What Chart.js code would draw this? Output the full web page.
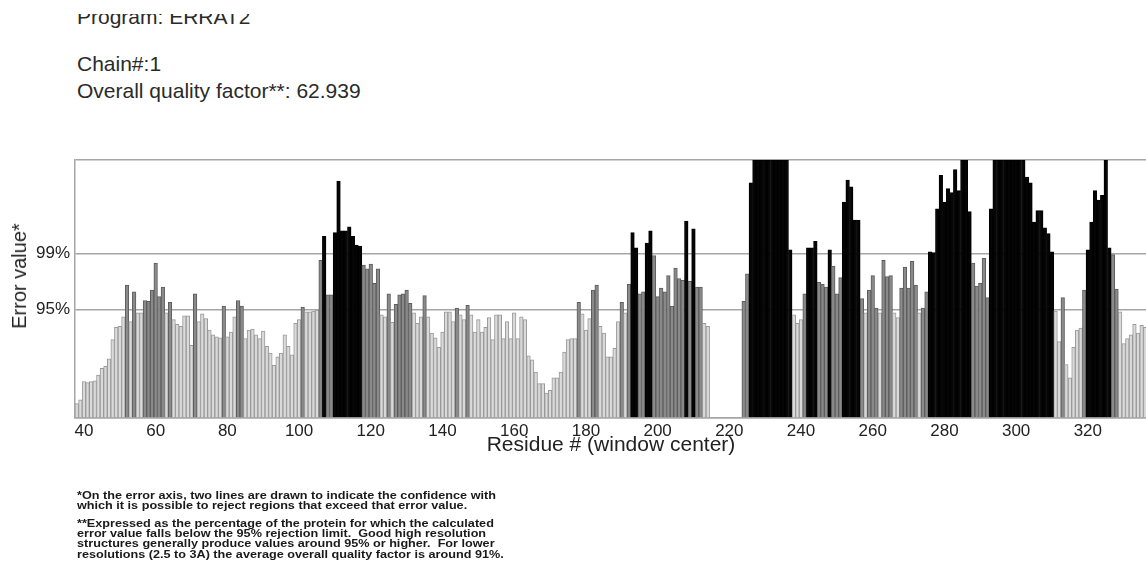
<!DOCTYPE html>
<html>
<head>
<meta charset="utf-8">
<title>ERRAT2 – Chain 1</title>
<script src="https://cdn.jsdelivr.net/npm/chart.js@4.4.1/dist/chart.umd.min.js"></script>
<style>
  html, body { margin: 0; padding: 0; background: #fff; }
  #page { position: relative; width: 1146px; height: 583px; overflow: hidden; background: #fff; }
  #plot { position: absolute; left: 0; top: 0; }
  .hdr { position: absolute; left: 77px; font-family: "Liberation Sans", Arial, sans-serif;
         font-size: 21px; line-height: 21px; color: #2a2a2a; white-space: nowrap; }
  #prog-clip { position: absolute; left: 0; top: 14px; width: 400px; height: 20px; overflow: hidden; }
  #prog-clip .hdr { top: -8px; }
  #ytitle { position: absolute; left: 19px; top: 276px; transform: translate(-50%, -50%) rotate(-90deg);
            font-family: "Liberation Sans", Arial, sans-serif; font-size: 20px; line-height: 20px;
            color: #222; white-space: nowrap; }
  .notes { position: absolute; left: 77px; font-family: "Liberation Sans", Arial, sans-serif;
           font-size: 11.5px; line-height: 10.2px; font-weight: bold; color: #1a1a1a; white-space: nowrap;
           transform: scaleX(1.1); transform-origin: 0 0; }
</style>
</head>
<body>
<div id="page">
  <div id="prog-clip"><div class="hdr">Program: ERRAT2</div></div>
  <div class="hdr" style="top:53px">Chain#:1</div>
  <div class="hdr" style="top:80px">Overall quality factor**: 62.939</div>

  <canvas id="plot" width="1150" height="583"></canvas>
  <div id="ytitle">Error value*</div>

  <div class="notes" style="top:490px">*On the error axis, two lines are drawn to indicate the confidence with<br>which it is possible to reject regions that exceed that error value.</div>
  <div class="notes" style="top:518px">**Expressed as the percentage of the protein for which the calculated<br>error value falls below the 95% rejection limit.&nbsp; Good high resolution<br>structures generally produce values around 95% or higher.&nbsp; For lower<br>resolutions (2.5 to 3A) the average overall quality factor is around 91%.</div>
</div>

<script>
// Window-centre residues covered by the plot
const firstResidue = 38;
const lastResidue = 336;

// ERRAT error value per window (null = no window computed)
const errorValues = [
  1.5, 1.9, 3.8, 3.7, 3.8, 3.9, 4.5, 5.2, 5.4, 6.2,            // 38-47
  8.2, 9.5, 9.6, 10.6, 13.9, 10.1, 13.2, 11.0, 11.0, 12.3,     // 48-57
  12.2, 13.4, 16.2, 12.7, 13.7, 11.0, 12.1, 10.3, 9.8, 9.6,    // 58-67
  10.7, 10.7, 7.6, 13.0, 10.1, 10.9, 10.4, 9.2, 8.7, 8.5,      // 68-77
  8.4, 11.7, 8.5, 9.0, 10.6, 12.3, 11.7, 8.3, 9.2, 9.3,        // 78-87
  8.7, 8.3, 9.1, 7.5, 6.8, 5.5, 6.4, 6.8, 8.7, 7.5,            // 88-97
  6.6, 9.9, 10.3, 11.6, 11.1, 11.1, 11.2, 11.3, 16.5, 19.0,    // 98-107
  12.9, 12.9, 19.4, 24.8, 19.6, 19.6, 20.0, 19.0, 18.1, 18.0,  // 108-117
  16.0, 15.6, 16.1, 14.1, 15.6, 10.8, 10.6, 13.0, 10.0, 11.9,  // 118-127
  12.9, 13.0, 13.4, 12.0, 11.0, 9.9, 10.6, 12.8, 10.6, 8.9,    // 128-137
  8.4, 7.4, 9.0, 11.1, 11.1, 10.1, 11.5, 10.8, 10.3, 11.8,     // 138-147
  10.8, 9.0, 10.3, 9.0, 9.5, 10.5, 8.2, 10.8, 10.8, 8.3,       // 148-157
  10.1, 8.3, 11.0, 8.3, 10.6, 10.3, 6.5, 6.1, 4.8, 3.6,        // 158-167
  3.6, 2.6, 2.9, 4.2, 4.2, 4.8, 6.9, 8.2, 8.3, 8.3,            // 168-177
  12.1, 10.9, 9.2, 10.4, 13.4, 13.9, 9.6, 8.9, 6.4, 6.4,       // 178-187
  7.3, 10.1, 12.1, 11.0, 14.0, 19.4, 17.8, 13.0, 13.2, 18.3,   // 188-197
  19.6, 17.0, 12.7, 13.6, 13.2, 14.9, 11.7, 15.7, 14.6, 14.4,  // 198-207
  20.6, 14.3, 19.8, 13.7, 13.7, 9.9, 9.6, null, null, null,    // 208-217
  null, null, null, null, null, null, 12.2, 15.1, 24.6, 27,    // 218-227
  27, 27, 27, 27, 27, 27, 27, 27, 27, 17.6,                    // 228-237
  10.8, 9.9, 10.3, 13.0, 17.8, 17.8, 18.5, 14.2, 14.0, 13.7,   // 238-247
  17.6, 15.9, 13.0, 14.7, 22.6, 24.9, 24.2, 20.7, 20.7, 12.5,  // 248-257
  11.0, 13.4, 14.9, 11.5, 11.0, 16.5, 14.8, 14.9, 11.0, 10.5,  // 258-267
  13.6, 15.8, 13.6, 16.4, 13.9, 11.0, 11.5, 13.2, 17.4, 17.3,  // 268-277
  21.9, 25.4, 22.6, 24.0, 23.6, 26.0, 23.8, 27, 27, 21.6,      // 278-287
  16.2, 13.8, 14.1, 16.7, 12.6, 21.9, 27, 27, 27, 27,          // 288-297
  27, 27, 27, 27, 27, 25.2, 24.6, 20.5, 21.7, 21.7,            // 298-307
  19.9, 19.3, 17.4, 11.2, 8.0, 12.6, 5.6, 4.2, 7.4, 9.2,       // 308-317
  9.4, 13.4, 17.6, 20.5, 23.8, 22.8, 23.3, 27, 17.8, 17.1,     // 318-327
  13.5, 11.1, 7.8, 8.3, 8.7, 9.8, 8.9, 9.7, 9.5                // 328-336
];

// Labelled residues on the x axis
const tickResidues = [40, 60, 80, 100, 120, 140, 160, 180, 200, 220, 240, 260, 280, 300, 320];

// Rejection limits drawn on the error axis
const limitValues = [11.38, 17.19];
const limitLabels = ['95%', '99%'];
const errorAxisMax = 27;

const residues = [];
for (let r = firstResidue; r <= lastResidue; r++) residues.push(r);

function barFill(v) {
  if (v > limitValues[1]) return '#050505';
  if (v > limitValues[0]) return '#8a8a8a';
  return '#dadada';
}
function barEdge(v) {
  if (v > limitValues[1]) return '#000000';
  if (v > limitValues[0]) return '#5c5c5c';
  return '#999999';
}

const axisGrey = '#a6a6a6';

new Chart(document.getElementById('plot'), {
  type: 'bar',
  data: {
    labels: residues,
    datasets: [{
      data: errorValues,
      backgroundColor: c => barFill(c.raw),
      borderColor: c => barEdge(c.raw),
      borderWidth: 1,
      borderSkipped: 'start',
      barPercentage: 1,
      categoryPercentage: 1
    }]
  },
  options: {
    responsive: false,
    animation: false,
    layout: { padding: { top: 160, right: 3, bottom: 0, left: 0 } },
    plugins: { legend: { display: false }, tooltip: { enabled: false } },
    scales: {
      x: {
        type: 'category',
        offset: true,
        grid: { display: false, drawTicks: false },
        border: { display: true, color: axisGrey, width: 1.5 },
        ticks: {
          autoSkip: false, maxRotation: 0, minRotation: 0, padding: 3,
          color: '#222', font: { family: 'Liberation Sans, Arial, sans-serif', size: 17 },
          callback: (val, i) => tickResidues.includes(residues[i]) ? String(residues[i]) : ''
        },
        title: {
          display: true, text: 'Residue # (window center)', color: '#222',
          font: { family: 'Liberation Sans, Arial, sans-serif', size: 21 },
          padding: { top: 0, bottom: 125 }
        },
        afterFit: s => { s.height = 165; }
      },
      y: {
        min: 0, max: errorAxisMax,
        afterBuildTicks: s => {
          s.ticks = [0, limitValues[0], limitValues[1], errorAxisMax].map(v => ({ value: v }));
        },
        grid: { color: axisGrey, lineWidth: 1.5, drawTicks: false },
        border: { display: true, color: axisGrey, width: 1.5 },
        ticks: {
          padding: 5, color: '#222',
          font: { family: 'Liberation Sans, Arial, sans-serif', size: 17 },
          callback: v => {
            const k = limitValues.indexOf(v);
            return k >= 0 ? limitLabels[k] : '';
          }
        },
        afterFit: s => { s.width = 75; }
      }
    }
  }
});
</script>
</body>
</html>
